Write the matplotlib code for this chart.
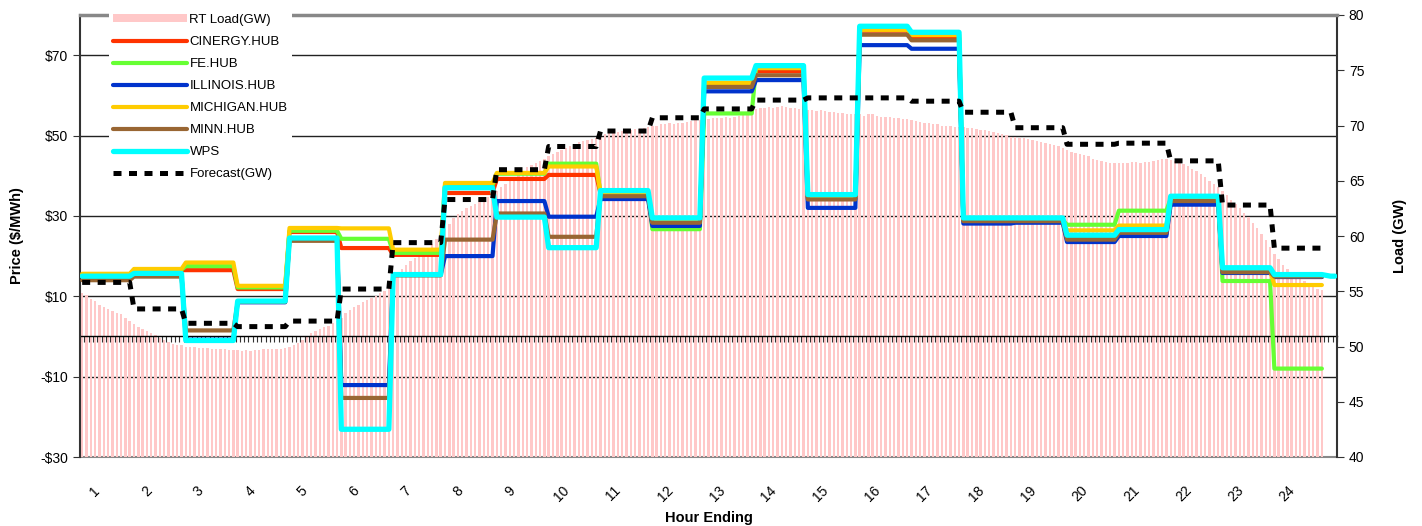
import numpy as np
import matplotlib
matplotlib.use("Agg")
import matplotlib.pyplot as plt

plt.rcParams["font.family"] = ["Liberation Sans", "DejaVu Sans"]

# hour ending labels
hours = list(range(1, 25))

# hourly prices ($/MWh), one value per hour ending
cinergy = [15.2, 16.5, 16.5, 11.8, 26.0, 22.0, 20.3, 35.7, 39.2, 40.2, 35.5, 28.0,
           62.8, 66.0, 34.5, 76.1, 74.3, 28.8, 28.8, 24.4, 25.5, 34.2, 16.2, 14.8]
fe = [15.3, 16.6, 17.5, 12.2, 26.3, 24.3, 20.8, 37.6, 40.5, 43.0, 35.6, 26.7,
      55.5, 66.8, 34.7, 76.6, 75.2, 29.0, 29.0, 27.8, 31.3, 34.3, 13.8, -8.0]
illinois = [15.0, 15.5, -0.8, 8.5, 24.3, -12.1, 15.3, 20.0, 33.7, 29.8, 34.2, 27.5,
            61.0, 63.8, 32.0, 72.5, 71.6, 28.1, 28.3, 23.5, 25.0, 32.8, 15.8, 14.8]
michigan = [15.6, 16.8, 18.4, 12.6, 27.0, 26.9, 21.6, 38.2, 40.7, 42.3, 35.8, 28.5,
            63.1, 66.8, 34.6, 76.3, 75.0, 29.0, 29.0, 26.4, 27.6, 34.4, 16.5, 12.8]
minn = [14.0, 14.9, 1.5, 8.6, 23.8, -15.3, 15.2, 24.1, 30.6, 24.8, 34.9, 28.3,
        62.1, 65.0, 34.1, 75.1, 73.7, 28.7, 28.7, 24.1, 25.8, 33.7, 16.0, 14.9]
wps = [15.0, 15.7, -1.0, 8.8, 24.5, -23.1, 15.4, 37.0, 29.7, 22.1, 36.3, 29.5,
       64.3, 67.4, 35.3, 77.2, 75.7, 29.5, 29.5, 25.2, 26.6, 34.9, 17.1, 15.4]
wps_tail = [15.2, 15.0, 15.0]

# hourly load forecast (GW)
forecast = [55.8, 53.4, 52.1, 51.8, 52.3, 55.2, 59.4, 63.3, 66.0, 68.1, 69.5, 70.7,
            71.5, 72.3, 72.5, 72.5, 72.2, 71.2, 69.8, 68.3, 68.4, 66.8, 62.8, 58.9]

# real-time load (GW), 5-minute readings, one row per hour
rt_load = [
    54.8, 54.7, 54.3, 54.1, 53.8, 53.6, 53.4, 53.2, 53.0, 52.9, 52.6, 52.3,
    52.0, 51.8, 51.6, 51.4, 51.2, 51.0, 50.8, 50.6, 50.4, 50.2, 50.1, 50.1,
    50.0, 50.0, 50.0, 49.9, 49.9, 49.9, 49.8, 49.8, 49.8, 49.8, 49.7, 49.7,
    49.7, 49.6, 49.7, 49.6, 49.7, 49.7, 49.8, 49.8, 49.8, 49.8, 49.8, 49.9,
    50.0, 50.1, 50.3, 50.6, 50.9, 51.2, 51.4, 51.6, 51.8, 51.9, 52.1, 52.3,
    52.6, 53.0, 53.3, 53.6, 53.8, 54.0, 54.2, 54.4, 54.6, 54.8, 55.0, 55.3,
    55.8, 56.4, 57.0, 57.4, 57.7, 58.0, 58.3, 58.6, 58.9, 59.3, 59.7, 60.1,
    60.6, 61.1, 61.6, 62.0, 62.3, 62.5, 62.7, 62.9, 63.1, 63.3, 63.5, 63.8,
    64.1, 64.4, 64.7, 65.0, 65.3, 65.6, 65.9, 66.2, 66.4, 66.6, 66.8, 67.0,
    67.2, 67.4, 67.6, 67.8, 68.0, 68.1, 68.3, 68.5, 68.6, 68.7, 68.8, 68.9,
    69.0, 69.2, 69.3, 69.3, 69.4, 69.5, 69.6, 69.6, 69.7, 69.7, 69.8, 69.9,
    70.0, 70.0, 70.1, 70.1, 70.2, 70.1, 70.2, 70.2, 70.3, 70.4, 70.5, 70.5,
    70.6, 70.6, 70.7, 70.7, 70.7, 70.8, 70.7, 70.8, 70.9, 71.0, 71.2, 71.4,
    71.5, 71.6, 71.6, 71.7, 71.6, 71.7, 71.8, 71.7, 71.6, 71.6, 71.5, 71.5,
    71.4, 71.4, 71.3, 71.4, 71.3, 71.2, 71.2, 71.1, 71.1, 71.0, 71.0, 71.0,
    71.0, 70.9, 71.0, 71.0, 70.9, 70.8, 70.8, 70.8, 70.7, 70.7, 70.6, 70.6,
    70.5, 70.4, 70.3, 70.2, 70.2, 70.1, 70.1, 70.0, 70.0, 70.0, 69.9, 69.9,
    69.9, 69.8, 69.8, 69.7, 69.6, 69.6, 69.5, 69.4, 69.3, 69.2, 69.1, 69.0,
    69.0, 68.9, 68.9, 68.8, 68.7, 68.6, 68.5, 68.4, 68.3, 68.2, 68.1, 68.0,
    67.8, 67.6, 67.5, 67.4, 67.3, 67.2, 67.0, 66.9, 66.8, 66.7, 66.6, 66.6,
    66.6, 66.6, 66.6, 66.7, 66.7, 66.6, 66.7, 66.7, 66.8, 66.9, 67.0, 67.0,
    66.9, 66.8, 66.6, 66.5, 66.3, 66.1, 65.9, 65.6, 65.3, 65.0, 64.7, 64.4,
    64.1, 63.7, 63.3, 62.9, 62.5, 62.1, 61.7, 61.2, 60.7, 60.2, 59.6, 59.0,
    58.4, 57.9, 57.4, 57.0, 56.7, 56.4, 56.1, 55.9, 55.6, 55.4, 55.2, 55.1,
]

price_ticks = [-30, -10, 10, 30, 50, 70]
load_ticks = list(range(40, 85, 5))

STEPS = 12          # 5-minute intervals per hour
N_CAT = 291         # category slots on the x axis
P_MIN, P_MAX = -30, 80
L_MIN, L_MAX = 40, 80

W, H = 1422, 526
fig = plt.figure(figsize=(W / 100, H / 100), dpi=100)
ax1 = fig.add_axes([80 / W, 69 / H, 1257 / W, 442 / H])
ax2 = ax1.twinx()
ax1.set_zorder(2)
ax1.patch.set_visible(False)
ax2.set_zorder(1)

ax1.set_xlim(-0.5, N_CAT - 0.5)
ax1.set_ylim(P_MIN, P_MAX)
ax2.set_ylim(L_MIN, L_MAX)

# price gridlines sit under the load bars
for p in price_ticks[1:]:
    ax2.plot([0, 1], [p, p], transform=ax1.get_yaxis_transform(),
             color="#222222", lw=1.0, zorder=2)

x = np.arange(len(rt_load))
bars = ax2.bar(x, rt_load, width=0.55, color="#FFC8C8", zorder=3,
               label="RT Load(GW)")

series = [
    ("CINERGY.HUB", cinergy, "#FF3300", 3.0),
    ("FE.HUB", fe, "#66FF33", 3.0),
    ("ILLINOIS.HUB", illinois, "#0033CC", 3.0),
    ("MICHIGAN.HUB", michigan, "#FFCC00", 3.0),
    ("MINN.HUB", minn, "#996633", 3.0),
]
handles = [bars]
for name, vals, col, lw in series:
    y = np.repeat(vals, STEPS)
    ln, = ax1.plot(np.arange(len(y)), y, color=col, lw=lw, label=name,
                   solid_joinstyle="round", solid_capstyle="round", zorder=3)
    handles.append(ln)

wps_y = np.concatenate([np.repeat(wps, STEPS), wps_tail])
ln, = ax1.plot(np.arange(len(wps_y)), wps_y, color="#00FFFF", lw=3.8, label="WPS",
               solid_joinstyle="round", solid_capstyle="round", zorder=4)
handles.append(ln)

# forecast is on the load scale but drawn above the price lines
fc_y = np.repeat(forecast, STEPS)
ln, = ax1.plot(np.arange(len(fc_y)), fc_y, transform=ax2.transData,
               color="black", lw=3.6, dashes=(1.6, 1.5), label="Forecast(GW)",
               zorder=5)
handles.append(ln)

# category axis crossing at zero with a tick per interval
zero_loc = (0 - P_MIN) / (P_MAX - P_MIN)
sec = ax1.secondary_xaxis(zero_loc)
sec.set_xticks(np.arange(-0.5, N_CAT, 1.0))
sec.tick_params(axis="x", direction="out", length=4, width=0.8, color="#333333",
                labelbottom=False, labeltop=False, bottom=True, top=False)
sec.spines["bottom"].set_color("black")
sec.spines["bottom"].set_linewidth(1.0)
for s in ("top", "left", "right"):
    sec.spines[s].set_visible(False)

# hour labels
ax1.set_xticks([STEPS * (h - 1) + 3 for h in hours])
ax1.set_xticklabels([str(h) for h in hours], rotation=45, ha="center", va="top",
                    fontsize=10)
ax1.tick_params(axis="x", length=0, pad=19)
ax1.set_xlabel("Hour Ending", fontsize=10.5, fontweight="bold", labelpad=5)

ax1.set_yticks(price_ticks)
ax1.set_yticklabels([f"-${-p}" if p < 0 else f"${p}" for p in price_ticks],
                    fontsize=10)
ax1.tick_params(axis="y", direction="out", length=5, color="#333333")
ax1.set_ylabel("Price ($/MWh)", fontsize=10.5, fontweight="bold", labelpad=12)

ax2.set_yticks(load_ticks)
ax2.tick_params(axis="y", direction="out", length=5, color="#333333", labelsize=10)
ax2.set_ylabel("Load (GW)", fontsize=10.5, fontweight="bold", labelpad=21)

for s in ("left", "right"):
    ax1.spines[s].set_color("#333333")
    ax1.spines[s].set_linewidth(1.5)
ax1.spines["top"].set_color("#888888")
ax1.spines["top"].set_linewidth(2.5)
ax1.spines["bottom"].set_visible(False)
for s in ("left", "right", "top"):
    ax2.spines[s].set_visible(False)
ax2.spines["bottom"].set_color("#888888")
ax2.spines["bottom"].set_linewidth(1.5)
ax2.spines["bottom"].set_zorder(2)

leg = ax1.legend(handles=handles, loc="upper left",
                 bbox_to_anchor=(109 / W, 1 - 10 / H), bbox_transform=fig.transFigure,
                 fontsize=9.5, frameon=True, fancybox=False, facecolor="white",
                 edgecolor="none", framealpha=1, handlelength=5.6,
                 handleheight=0.6, handletextpad=0.2, labelspacing=0.76,
                 borderpad=0.3, borderaxespad=0)
leg.set_zorder(10)

fig.savefig("out.png", dpi=100, facecolor="white")
